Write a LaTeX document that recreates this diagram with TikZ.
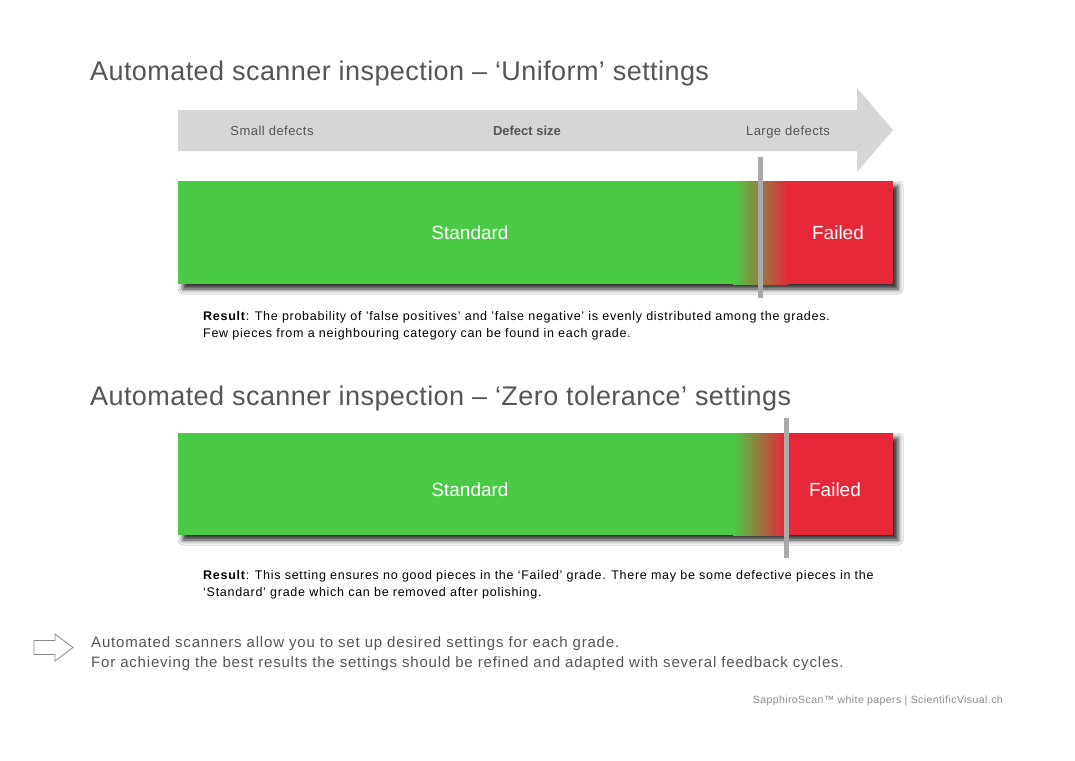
\documentclass[tikz,border=0pt]{standalone}
\usepackage{fontspec}
\setmainfont{Liberation Sans}
\usetikzlibrary{shadows.blur}
\definecolor{txtgray}{HTML}{555555}
\definecolor{lightgray}{HTML}{D6D6D6}
\definecolor{okgreen}{HTML}{4BCB45}
\definecolor{badred}{HTML}{E52737}
\definecolor{linegray}{HTML}{AAAAAA}
\definecolor{footgray}{HTML}{8A8A8A}
\tikzset{
  title/.style={anchor=base west, inner sep=0pt, text=txtgray, font=\fontsize{27}{30}\selectfont\addfontfeature{LetterSpace=1.6}},
  axislabel/.style={anchor=base, inner sep=0pt, text=txtgray, font=\fontsize{13}{15}\selectfont\addfontfeature{LetterSpace=3.5}},
  axisbold/.style={anchor=base, inner sep=0pt, text=txtgray, font=\fontsize{13}{15}\selectfont\bfseries},
  barlabel/.style={anchor=base, inner sep=0pt, text=white, font=\fontsize{19}{22}\selectfont},
  result/.style={anchor=base west, inner sep=0pt, text=black, font=\fontsize{12.5}{17}\selectfont\addfontfeature{LetterSpace=5.8}},
  note/.style={anchor=base west, inner sep=0pt, text=txtgray, font=\fontsize{15}{20}\selectfont\addfontfeature{LetterSpace=5.4}},
  foot/.style={anchor=base east, inner sep=0pt, text=footgray, font=\fontsize{10.5}{12}\selectfont\addfontfeature{LetterSpace=4}},
  cutline/.style={line width=5pt, linegray},
  barshadow/.style={blur shadow={shadow xshift=5pt, shadow yshift=-5pt, shadow blur radius=5pt, shadow opacity=85}}
}
\begin{document}
\begin{tikzpicture}[x=1pt,y=1pt]
\useasboundingbox[fill=white] (0,0) rectangle (1075,-760);

% Title 1
\node[title] (t1) at (90,-80) {Automated scanner inspection – ‘Uniform’ settings};

% Defect size arrow
\fill[lightgray] (178,-110) -- (857,-110) -- (857,-88) -- (893,-130) -- (857,-172) -- (857,-151) -- (178,-151) -- cycle;
\node[axislabel] (small) at (272,-135) {Small defects};
\node[axisbold] (size) at (527,-135) {Defect size};
\node[axislabel] (large) at (788,-135) {Large defects};

% Bar 1
\path[barshadow, fill=okgreen] (178,-181) rectangle (893,-284);
\fill[okgreen] (178,-181) rectangle (733,-284);
\shade[left color=okgreen, right color=badred] (733,-181) rectangle (788,-284);
\fill[badred] (787.5,-181) rectangle (893,-284);
\coordinate (c1top) at (760,-157);
\coordinate (c1bot) at (760,-298);
\draw[cutline] (c1top) -- (c1bot);
\node[barlabel] (std1) at (470,-239) {Standard};
\node[barlabel] (fail1) at (838,-239) {Failed};

\node[result] (r1a) at (203,-320) {\textbf{Result}: The probability of 'false positives' and 'false negative' is evenly distributed among the grades.};
\node[result] (r1b) at (203,-337) {Few pieces from a neighbouring category can be found in each grade.};

% Title 2
\node[title] (t2) at (90,-405) {Automated scanner inspection – ‘Zero tolerance’ settings};

% Bar 2
\path[barshadow, fill=okgreen] (178,-433) rectangle (893,-535);
\fill[okgreen] (178,-433) rectangle (733,-535);
\shade[left color=okgreen, right color=badred] (733,-433) rectangle (784,-535);
\fill[badred] (783.5,-433) rectangle (893,-535);
\coordinate (c2top) at (786,-418);
\coordinate (c2bot) at (786,-558);
\draw[cutline] (c2top) -- (c2bot);
\node[barlabel] (std2) at (470,-496) {Standard};
\node[barlabel] (fail2) at (835,-496) {Failed};

\node[result] (r2a) at (203,-579) {\textbf{Result}: This setting ensures no good pieces in the ‘Failed’ grade. There may be some defective pieces in the};
\node[result] (r2b) at (203,-596) {‘Standard’ grade which can be removed after polishing.};

% Note with hollow arrow
\draw[footgray, line width=0.8pt, line join=miter] (34,-640.5) -- (55,-640.5) -- (55,-634) -- (73,-647.5) -- (55,-661) -- (55,-654.5) -- (34,-654.5) -- cycle;
\node[note] (n1) at (91,-647) {Automated scanners allow you to set up desired settings for each grade.};
\node[note] (n2) at (91,-667) {For achieving the best results the settings should be refined and adapted with several feedback cycles.};

% Footer
\node[foot] (ft) at (1003,-703) {SapphiroScan™ white papers | ScientificVisual.ch};
\end{tikzpicture}
\end{document}
